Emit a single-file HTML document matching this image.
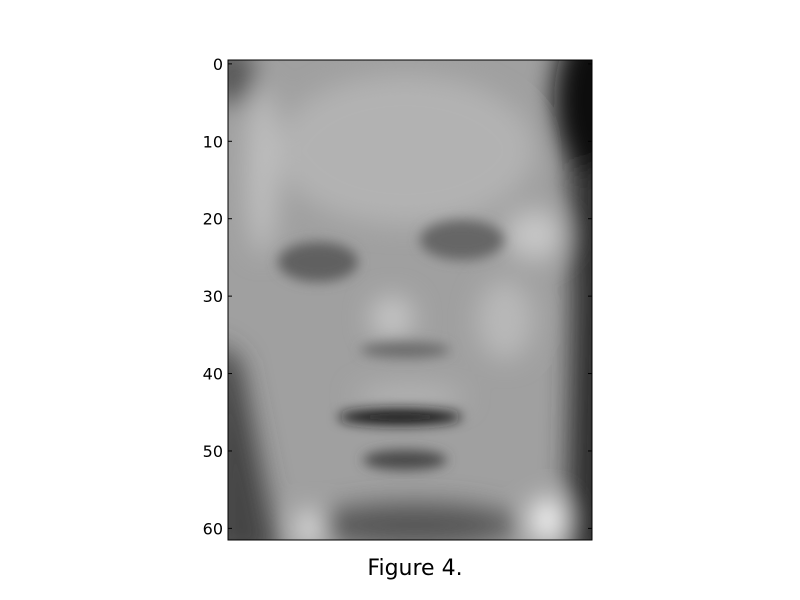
<!DOCTYPE html>
<html><head><meta charset="utf-8"><style>
html,body{margin:0;padding:0;background:#fff;}
svg{display:block;font-family:"DejaVu Sans","Liberation Sans",sans-serif;}
</style></head><body>
<svg id="fig" width="800" height="600" viewBox="0 0 800 600">
<defs>
<clipPath id="clip"><rect x="228" y="60" width="364" height="480"/></clipPath>
<filter id="b" x="-50%" y="-50%" width="200%" height="200%"><feGaussianBlur stdDeviation="13"/></filter>
<filter id="b2" x="-50%" y="-50%" width="200%" height="200%"><feGaussianBlur stdDeviation="6"/></filter>
</defs>
<g clip-path="url(#clip)">
<rect x="228" y="60" width="364" height="480" fill="#a0a0a0"/>
<g filter="url(#b)">
<ellipse cx="405" cy="150" rx="130" ry="75" fill="#b2b2b2"/>
<ellipse cx="262" cy="170" rx="16" ry="85" fill="#bebebe"/>
<ellipse cx="232" cy="75" rx="22" ry="30" fill="#555"/>
<polygon points="566,40 620,40 620,560 566,560 572,300" fill="#2e2e2e"/>
<ellipse cx="588" cy="100" rx="34" ry="75" fill="#080808"/>
<polygon points="210,340 240,360 280,560 210,560" fill="#454545"/>
<ellipse cx="535" cy="235" rx="30" ry="25" fill="#c6c6c6"/>
<ellipse cx="505" cy="320" rx="28" ry="40" fill="#b8b8b8"/>
<ellipse cx="392" cy="318" rx="22" ry="22" fill="#c4c4c4"/>
<ellipse cx="410" cy="396" rx="55" ry="10" fill="#b8b8b8"/>
<ellipse cx="415" cy="525" rx="105" ry="22" fill="#555"/>
<ellipse cx="310" cy="528" rx="12" ry="18" fill="#eaeaea"/>
<ellipse cx="548" cy="520" rx="18" ry="22" fill="#f4f4f4"/>
</g>
<g filter="url(#b2)">
<ellipse cx="318" cy="262" rx="40" ry="20" fill="#606060"/>
<ellipse cx="462" cy="240" rx="42" ry="20" fill="#666"/>
<ellipse cx="405" cy="350" rx="45" ry="8" fill="#6a6a6a"/>
<ellipse cx="400" cy="417" rx="62" ry="8" fill="#181818"/>
<ellipse cx="405" cy="460" rx="42" ry="10" fill="#4a4a4a"/>
</g>
</g>
<rect x="228" y="60" width="364" height="480" fill="none" stroke="#000" stroke-width="1"/>
<g id="yaxis"></g>
<text x="415" y="575" font-size="22" text-anchor="middle">Figure 4.</text>
</svg>
<script>
const yTicks = [0, 10, 20, 30, 40, 50, 60];
const nRows = 62;
const plotTop = 60, plotBottom = 540, plotLeft = 228, plotRight = 592;
function yScale(v){ return plotTop + (v + 0.5) / nRows * (plotBottom - plotTop); }
const yg = document.getElementById('yaxis');
const svgNs = 'http://www.w3.org/2000/svg';
yTicks.forEach(t => {
  const y = yScale(t);
  [[plotLeft, plotLeft + 4], [plotRight - 4, plotRight]].forEach(([a, b]) => {
    const l = document.createElementNS(svgNs, 'line');
    l.setAttribute('x1', a); l.setAttribute('x2', b);
    l.setAttribute('y1', y); l.setAttribute('y2', y);
    l.setAttribute('stroke', '#000');
    
    
    yg.appendChild(l);
  });
  const tx = document.createElementNS(svgNs, 'text');
  tx.setAttribute('x', plotLeft - 5);
  tx.setAttribute('y', y + 6);
  tx.setAttribute('font-size', '16');
  tx.setAttribute('text-anchor', 'end');
  tx.textContent = t;
  
  
  yg.appendChild(tx);
});
</script>
</body></html>
